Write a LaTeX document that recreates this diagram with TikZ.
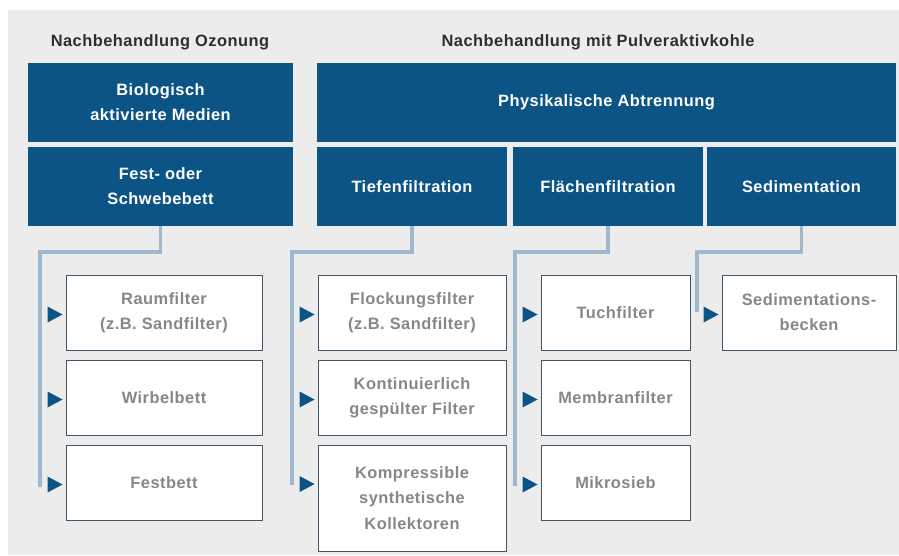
\documentclass[tikz,border=0pt]{standalone}
\usepackage{fontspec}
\setmainfont[LetterSpace=3]{Liberation Sans}
\usepackage{tikz}
\usetikzlibrary{positioning}

\definecolor{bgGrey}{HTML}{ECECEC}
\definecolor{darkBlue}{HTML}{0D5486}
\definecolor{linkBlue}{HTML}{A0B8CE}
\definecolor{boxBorder}{HTML}{3E5668}
\definecolor{greyText}{HTML}{878787}
\definecolor{headText}{HTML}{2E2E2E}

\begin{document}
\begin{tikzpicture}[x=0.03cm, y=-0.03cm,
    txt/.style={font=\fontsize{14}{21.5}\selectfont\bfseries, align=center},
    head/.style={txt, text=headText},
    bluebox/.style={txt, fill=darkBlue, text=white, inner sep=0pt, minimum height=2.37cm, minimum width=#1},
    whitebox/.style={txt, draw=boxBorder, line width=0.8pt, fill=white, text=greyText, inner sep=0pt, minimum height=2.25cm, minimum width=#1},
    link/.style={draw=linkBlue, line width=2.6pt},
    tip/.style={fill=darkBlue}]

    % Page and grey background
    \useasboundingbox (0,0) rectangle (899,555);
    \fill[bgGrey] (8,10) rectangle (899,555);

    % Column headings
    \node[head] (hOzon) at (160,42) {Nachbehandlung Ozonung};
    \node[head] (hPak) at (598,42) {Nachbehandlung mit Pulveraktivkohle};

    % Blue category boxes
    \node[bluebox=7.95cm] (bio) at (160.5,102.5) {Biologisch\\aktivierte Medien};
    \node[bluebox=7.95cm] (fest) at (160.5,186.5) {Fest- oder\\Schwebebett};
    \node[bluebox=17.37cm] (phys) at (606.5,102.5) {Physikalische Abtrennung};
    \node[bluebox=5.7cm] (tiefen) at (412,186.5) {Tiefenfiltration};
    \node[bluebox=5.7cm] (flaechen) at (608,186.5) {Flächenfiltration};
    \node[bluebox=5.67cm] (sedi) at (801.5,186.5) {Sedimentation};

    % White boxes, first column
    \node[whitebox=5.88cm] (raum) at (164,312.5) {Raumfilter\\(z.B. Sandfilter)};
    \node[whitebox=5.88cm] (wirbel) at (164,397.5) {Wirbelbett};
    \node[whitebox=5.88cm] (festbett) at (164,482.5) {Festbett};

    % White boxes, second column
    \node[whitebox=5.64cm] (flock) at (412,312.5) {Flockungsfilter\\(z.B. Sandfilter)};
    \node[whitebox=5.64cm] (konti) at (412,397.5) {Kontinuierlich\\gespülter Filter};
    \node[whitebox=5.64cm, minimum height=3.18cm] (kompr) at (412,498) {Kompressible\\synthetische\\Kollektoren};

    % White boxes, third column
    \node[whitebox=4.47cm] (tuch) at (615.5,312.5) {Tuchfilter};
    \node[whitebox=4.47cm] (membran) at (615.5,397.5) {Membranfilter};
    \node[whitebox=4.47cm] (mikro) at (615.5,482.5) {Mikrosieb};

    % White box, fourth column
    \node[whitebox=5.22cm] (becken) at (809,312.5) {Sedimentations-\\becken};

    % Bracket corners and ends
    \coordinate (k1) at (40,252);
    \coordinate (e1) at (40,487);
    \coordinate (k2) at (292,252);
    \coordinate (e2) at (292,485);
    \coordinate (k3) at (515,252);
    \coordinate (e3) at (515,486);
    \coordinate (k4) at (697,252);
    \coordinate (e4) at (697,312);

    % Brackets
    \draw[link] (fest.south) |- (k1) -- (e1);
    \draw[link] (tiefen.south) |- (k2) -- (e2);
    \draw[link] (flaechen.south) |- (k3) -- (e3);
    \draw[link] (sedi.south) |- (k4) -- (e4);

    % Triangles in front of the boxes
    \fill[tip] (raum.west) ++(-3,2) -- ++(-15,-8) -- ++(0,16) -- cycle;
    \fill[tip] (wirbel.west) ++(-3,2) -- ++(-15,-8) -- ++(0,16) -- cycle;
    \fill[tip] (festbett.west) ++(-3,2) -- ++(-15,-8) -- ++(0,16) -- cycle;
    \fill[tip] (flock.west) ++(-3,2) -- ++(-15,-8) -- ++(0,16) -- cycle;
    \fill[tip] (konti.west) ++(-3,2) -- ++(-15,-8) -- ++(0,16) -- cycle;
    \fill[tip] (kompr.north west) ++(-3,39.5) -- ++(-15,-8) -- ++(0,16) -- cycle;
    \fill[tip] (tuch.west) ++(-3,2) -- ++(-15,-8) -- ++(0,16) -- cycle;
    \fill[tip] (membran.west) ++(-3,2) -- ++(-15,-8) -- ++(0,16) -- cycle;
    \fill[tip] (mikro.west) ++(-3,2) -- ++(-15,-8) -- ++(0,16) -- cycle;
    \fill[tip] (becken.west) ++(-3,2) -- ++(-15,-8) -- ++(0,16) -- cycle;
\end{tikzpicture}
\end{document}
